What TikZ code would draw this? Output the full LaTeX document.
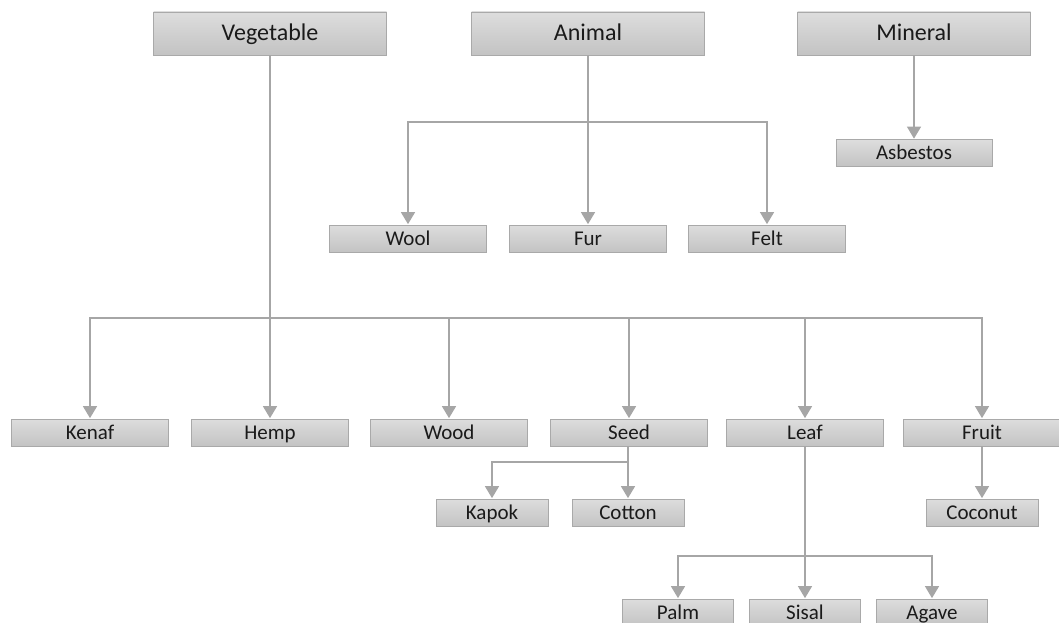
\documentclass[tikz,border=0pt]{standalone}
\usepackage{fontspec}
\setmainfont{Carlito}
\usetikzlibrary{arrows.meta}
\definecolor{boxline}{HTML}{A9A9A9}
\definecolor{linkgray}{HTML}{A6A6A6}
\definecolor{boxtop}{HTML}{DDDDDD}
\definecolor{boxbot}{HTML}{C3C3C3}
\definecolor{txt}{HTML}{1A1A1A}
\tikzset{
  box/.style={draw=boxline, line width=0.9pt, top color=boxtop, bottom color=boxbot,
    text=txt, inner sep=0pt, anchor=center, text depth=0pt},
  bigbox/.style={box, minimum width=233pt, minimum height=43pt, text height=14.5pt,
    font=\fontsize{24}{27}\selectfont},
  midbox/.style={box, minimum width=157pt, minimum height=27pt, text height=13.5pt,
    font=\fontsize{21}{24}\selectfont},
  smallbox/.style={box, minimum width=112pt, minimum height=27pt, text height=13.5pt,
    font=\fontsize{21}{24}\selectfont},
  link/.style={draw=linkgray, line width=1.3pt},
  arr/.style={link, -{Triangle[width=14pt,length=12pt]}, shorten >=0.4pt},
}
\begin{document}
\begin{tikzpicture}[x=1pt,y=-1pt]
  \useasboundingbox (0,0) rectangle (1059,623);

  % top categories
  \node[bigbox] (veg) at (270,33.5) {Vegetable};
  \node[bigbox] (ani) at (588,33.5) {Animal};
  \node[bigbox] (min) at (914,33.5) {Mineral};

  % animal and mineral fibres
  \node[midbox] (wool) at (408,238.5) {Wool};
  \node[midbox] (fur)  at (588,238.5) {Fur};
  \node[midbox] (felt) at (767,238.5) {Felt};
  \node[midbox, minimum width=156pt] (asb) at (914,153) {Asbestos};

  % vegetable fibres
  \node[midbox] (kenaf) at (90,432.5)  {Kenaf};
  \node[midbox] (hemp)  at (270,432.5) {Hemp};
  \node[midbox] (wood)  at (449,432.5) {Wood};
  \node[midbox] (seed)  at (629,432.5) {Seed};
  \node[midbox] (leaf)  at (805,432.5) {Leaf};
  \node[midbox] (fruit) at (982,432.5) {Fruit};

  % sub-types
  \node[smallbox] (kapok)  at (492,512.5) {Kapok};
  \node[smallbox] (cotton) at (628,512.5) {Cotton};
  \node[smallbox] (coco)   at (982,512.5) {Coconut};
  \node[smallbox, minimum width=111pt] (palm)  at (678,612.5) {Palm};
  \node[smallbox, minimum width=111pt] (sisal) at (805,612.5) {Sisal};
  \node[smallbox, minimum width=111pt] (agave) at (932,612.5) {Agave};

  % branch lines
  \coordinate (vbus) at (0,318);
  \coordinate (abus) at (0,122);
  \coordinate (sbus) at (0,462);
  \coordinate (lbus) at (0,556);
  \coordinate (sj) at (seed.south -| cotton.north);

  % Vegetable
  \foreach \c in {kenaf,wood,seed,leaf,fruit}
    \draw[arr] (veg.south) -- (veg.south |- vbus) -| (\c.north);
  \draw[arr] (veg.south) -- (veg.south |- hemp.north);

  % Animal
  \foreach \c in {wool,felt}
    \draw[arr] (ani.south) -- (ani.south |- abus) -| (\c.north);
  \draw[arr] (ani.south) -- (ani.south |- fur.north);

  % Mineral
  \draw[arr] (min.south) -- (min.south |- asb.north);

  % Seed
  \draw[arr] (sj) -- (sj |- sbus) -| (kapok.north);
  \draw[arr] (sj) -- (cotton.north);

  % Leaf
  \foreach \c in {palm,agave}
    \draw[arr] (leaf.south) -- (leaf.south |- lbus) -| (\c.north);
  \draw[arr] (leaf.south) -- (leaf.south |- sisal.north);

  % Fruit
  \draw[arr] (fruit.south) -- (fruit.south |- coco.north);
\end{tikzpicture}
\end{document}
